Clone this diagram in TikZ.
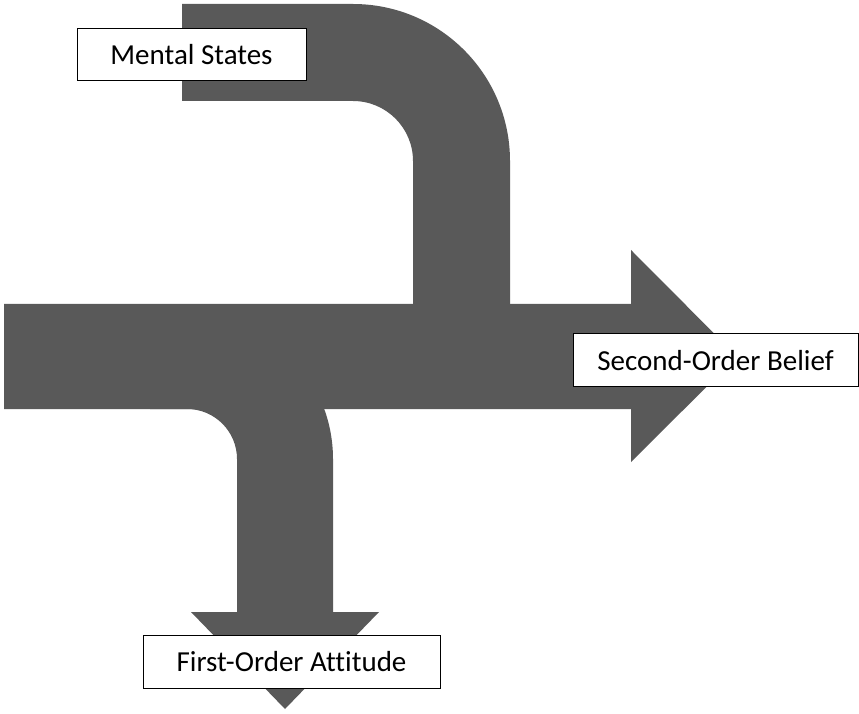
\documentclass[tikz,border=0pt]{standalone}
\usepackage{fontspec}
\setmainfont{Carlito}[Ligatures=NoCommon]
\definecolor{flowgrey}{HTML}{595959}
\tikzset{
  flow/.style={fill=flowgrey, draw=none},
  labelbox/.style={draw=black, line width=1pt, fill=white, inner sep=0pt,
    font=\fontsize{29}{34}\selectfont, anchor=center}
}
\begin{document}
\begin{tikzpicture}[x=1pt, y=1pt]
\useasboundingbox (0,0) rectangle (859,713);

% bent band from the top, turning down into the main arrow
\fill[flow] (182,709) -- (353,709)
  arc[start angle=90, end angle=0, radius=157pt]
  -- (510,409) -- (413,409) -- (413,552)
  arc[start angle=0, end angle=90, radius=60pt]
  -- (182,612) -- cycle;

% branch leaving the main arrow and pointing down
\fill[flow] (150,400) -- (187,400)
  arc[start angle=90, end angle=0, radius=146pt]
  -- (333,101) -- (379,101) -- (285,4) -- (191,101) -- (237,101) -- (237,254)
  arc[start angle=0, end angle=90, radius=50pt]
  -- (150,304) -- cycle;

% main horizontal arrow
\fill[flow] (4,409) -- (631,409) -- (631,463) -- (737,356.5)
  -- (631,251) -- (631,304) -- (4,304) -- cycle;

% labels
\node[labelbox, minimum width=229pt, minimum height=52pt] (mental) at (191.5,658) {Mental States};
\node[labelbox, minimum width=285pt, minimum height=53pt] (second) at (715.5,352.5) {Second-Order Belief};
\node[labelbox, minimum width=297pt, minimum height=53pt] (first) at (291.5,51.5) {First-Order Attitude};
\end{tikzpicture}
\end{document}
